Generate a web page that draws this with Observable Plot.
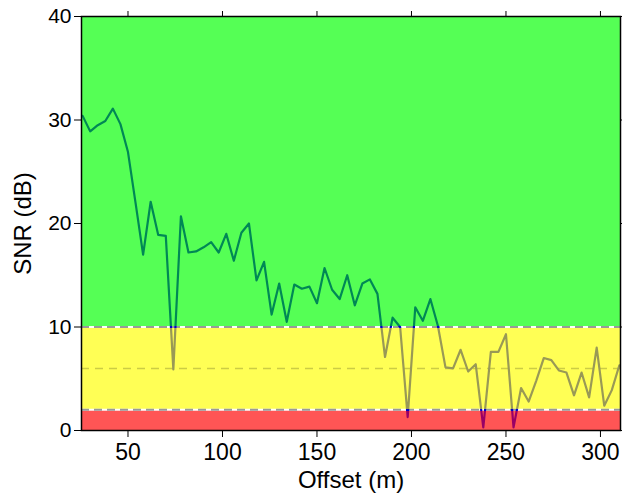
<!DOCTYPE html>
<html>
<head>
<meta charset="utf-8">
<script src="https://cdn.jsdelivr.net/npm/d3@7"></script>
<script src="https://cdn.jsdelivr.net/npm/@observablehq/plot@0.6"></script>
<style>
  html, body { margin: 0; padding: 0; background: white; }
  svg { font-family: "Liberation Sans", Arial, sans-serif; }
</style>
</head>
<body>
<div id="chart"></div>
<script>
// Offsets (m) and SNR (dB)
const offsets = [26,30,34,38,42,46,50,54,58,62,66,70,74,78,82,86,90,94,98,102,
  106,110,114,118,122,126,130,134,138,142,146,150,154,158,162,166,170,174,178,182,
  186,190,194,198,202,206,210,214,218,222,226,230,234,238,242,246,250,254,258,262,
  266,270,274,278,282,286,290,294,298,302,306,310];
const snr = [30.4,28.9,29.5,29.9,31.1,29.6,26.9,22.0,17.0,22.1,18.9,18.8,5.9,20.7,17.2,17.3,17.7,18.2,17.2,19.0,
  16.4,19.1,20.0,14.5,16.3,11.2,14.2,10.5,14.1,13.7,13.9,12.3,15.7,13.6,12.7,15.0,12.1,14.2,14.6,13.2,
  7.1,10.9,10.0,1.3,11.9,10.6,12.7,10.1,6.1,6.0,7.8,5.7,6.4,0.3,7.6,7.6,9.3,0.3,4.1,2.8,
  4.8,7.0,6.8,5.8,5.6,3.4,5.6,3.2,8.0,2.4,3.9,6.3];

// Quality bands
const bandLow = [0, 2, 10];
const bandHigh = [2, 10, 40];
const bandColor = ["#ff5555", "#ffff55", "#55ff55"];
const lineColor = ["#990066", "#999955", "#008855"];
// Threshold lines
const thresholds = [2, 10];
const midLine = [6];

const xTicks = [50, 100, 150, 200, 250, 300];
const yTicks = [0, 10, 20, 30, 40];

const data = offsets.map((x, i) => ({x, y: snr[i]}));
const bands = bandLow.map((lo, i) => ({lo, hi: bandHigh[i], c: bandColor[i]}));

const plot = Plot.plot({
  width: 622,
  height: 497,
  marginLeft: 81,
  marginRight: 2,
  marginTop: 16,
  marginBottom: 67,
  style: {fontSize: "22px", fontFamily: "Liberation Sans, Arial, sans-serif", color: "black"},
  x: {domain: [25.4, 310.6], ticks: xTicks, label: "Offset (m)"},
  y: {domain: [0, 40], ticks: yTicks, label: "SNR (dB)"},
  marks: [
    Plot.rectY(bands, {x1: 25.4, x2: 310.6, y1: "lo", y2: "hi", fill: "c"}),
    Plot.ruleY(thresholds, {stroke: "white", strokeWidth: 2}),
    Plot.ruleY(thresholds, {stroke: "#999999", strokeWidth: 2, strokeDasharray: "8,5"}),
    Plot.ruleY(midLine, {stroke: "#cccc44", strokeWidth: 1.5, strokeDasharray: "8,6"}),
    Plot.line(data, {x: "x", y: "y", stroke: "url(#snrgrad)", strokeWidth: 2.2}),
    Plot.frame({stroke: "black", strokeWidth: 1.5}),
    Plot.axisX({anchor: "bottom", ticks: xTicks, tickSize: 7, tickPadding: 6, label: null, fontSize: 23}),
    Plot.axisX({anchor: "bottom", ticks: [], tickSize: 0, label: "Offset (m)", labelAnchor: "center", labelArrow: "none", labelOffset: 57, fontSize: 24}),
    Plot.axisX({anchor: "top", ticks: xTicks, tickSize: 6, tickFormat: () => "", label: null}),
    Plot.axisY({anchor: "left", ticks: yTicks, tickSize: 7, tickPadding: 3, label: null, fontSize: 21}),
    Plot.axisY({anchor: "left", ticks: [], tickSize: 0, label: "SNR (dB)", labelAnchor: "center", labelArrow: "none", labelOffset: 68, fontSize: 24}),
    Plot.axisY({anchor: "right", ticks: yTicks, tickSize: 6, tickFormat: () => "", label: null})
  ]
});

// gradient so the line changes colour at the band thresholds
const ys = plot.scale("y");
const svg = d3.select(plot.tagName === "svg" ? plot : plot.querySelector("svg"));
const grad = svg.insert("defs", ":first-child").append("linearGradient")
  .attr("id", "snrgrad").attr("gradientUnits", "userSpaceOnUse")
  .attr("x1", 0).attr("x2", 0).attr("y1", ys.apply(0)).attr("y2", ys.apply(40));
const eps = 0.1;
const stops = [
  [0, lineColor[0]], [bandHigh[0] - eps, lineColor[0]],
  [bandHigh[0] - eps, "#0000cc"], [bandHigh[0] + eps, "#0000cc"],
  [bandHigh[0] + eps, lineColor[1]], [bandHigh[1] - eps, lineColor[1]],
  [bandHigh[1] - eps, "#0000cc"], [bandHigh[1] + eps, "#0000cc"],
  [bandHigh[1] + eps, lineColor[2]], [40, lineColor[2]]
];
stops.forEach(([v, c]) => grad.append("stop").attr("offset", v / 40).attr("stop-color", c));

document.getElementById("chart").appendChild(plot);
</script>
</body>
</html>
